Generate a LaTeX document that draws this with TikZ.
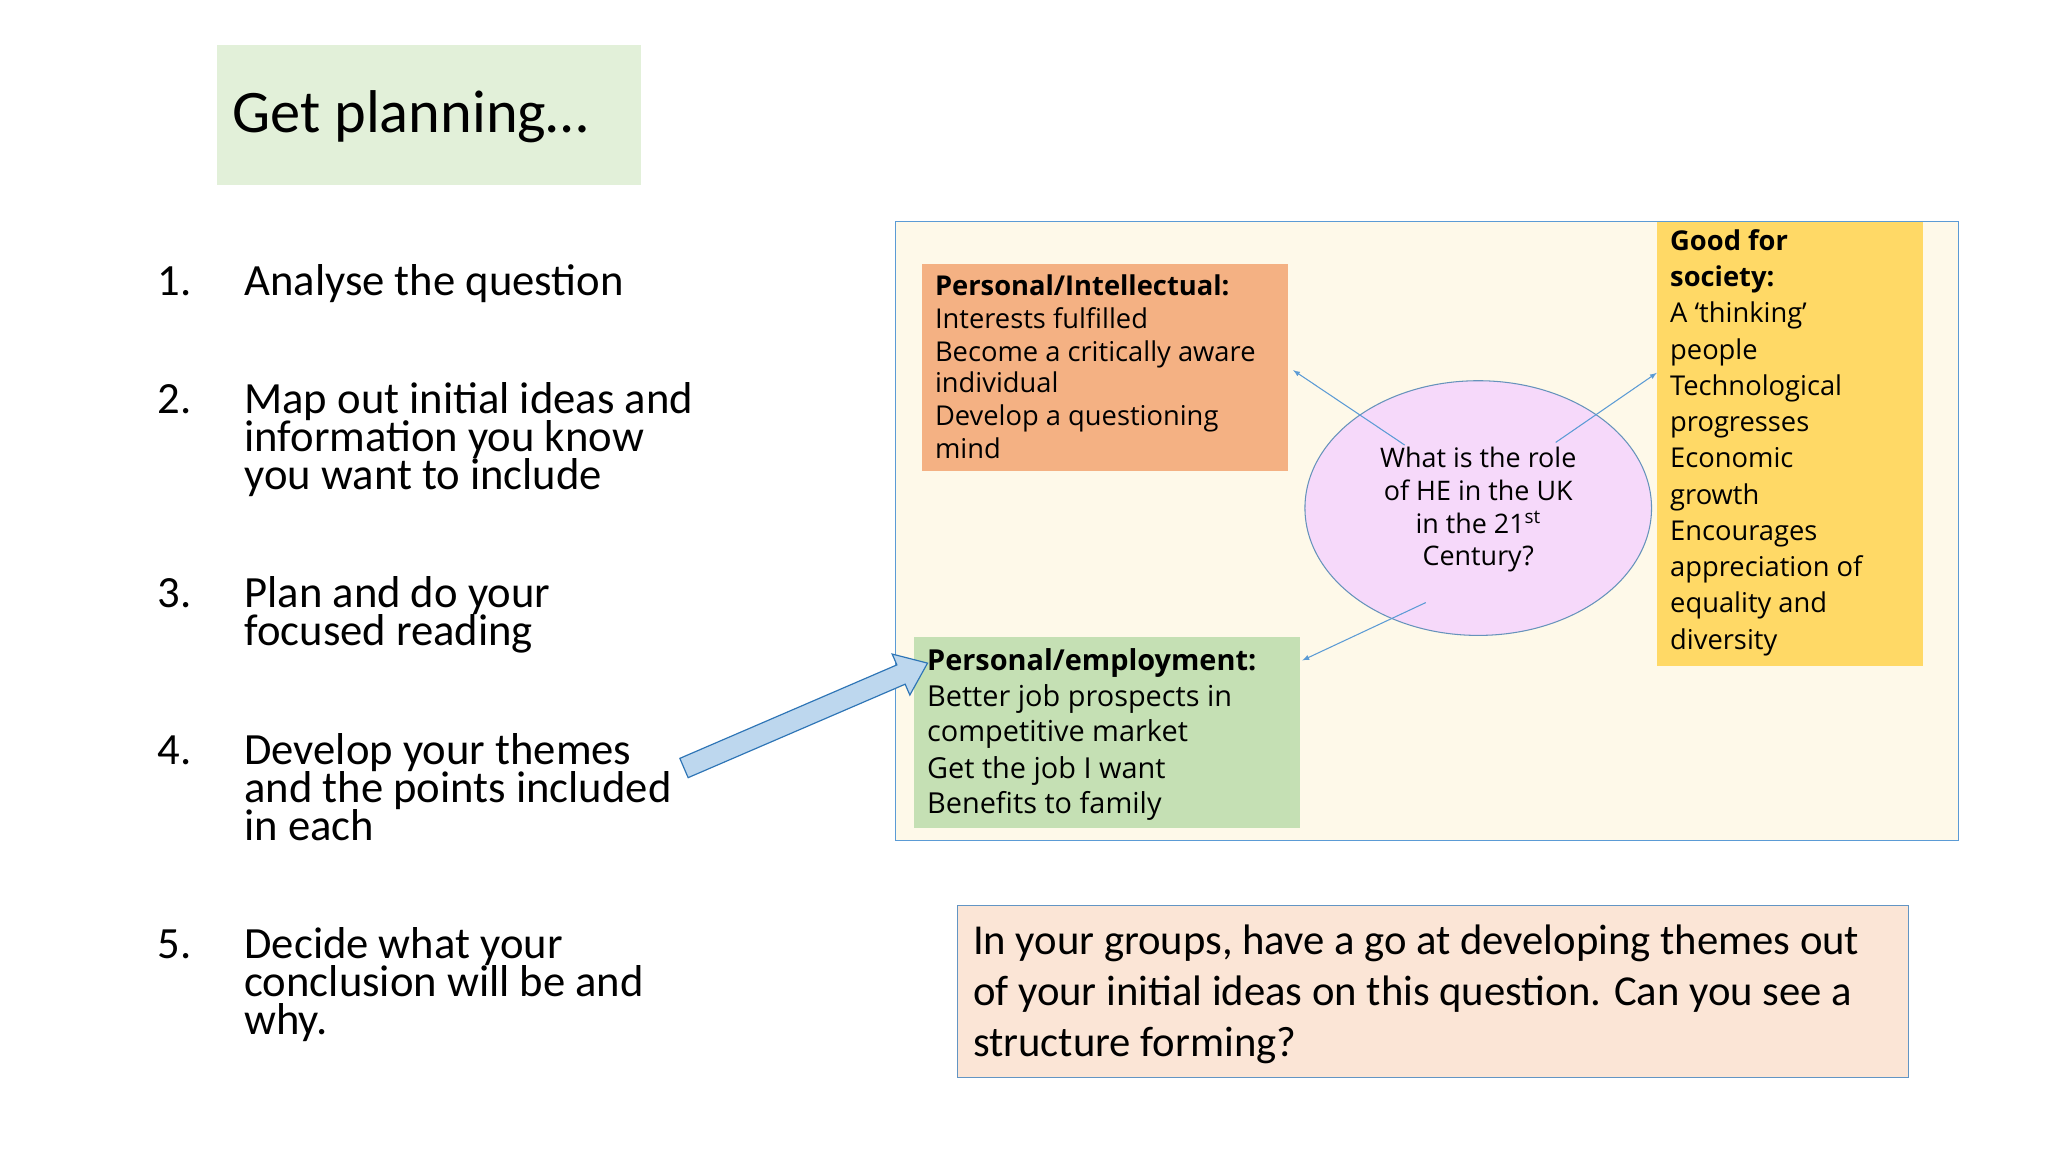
\documentclass[tikz,border=0pt]{standalone}
\usepackage{fontspec}
\usetikzlibrary{shapes.geometric}
\setmainfont{Carlito}
\newfontfamily\boxfont{Open Sans}
\definecolor{titleg}{HTML}{E2F0D9}
\definecolor{cream}{HTML}{FEF9E9}
\definecolor{bluel}{HTML}{5B9BD5}
\definecolor{orng}{HTML}{F4B183}
\definecolor{yell}{HTML}{FFD966}
\definecolor{grn}{HTML}{C5E0B4}
\definecolor{pinkv}{HTML}{F6D9FA}
\definecolor{peach}{HTML}{FBE5D6}
\definecolor{arrf}{HTML}{BDD7EE}
\definecolor{arro}{HTML}{2E75B6}
\tikzset{
 li/.style={anchor=base west,inner sep=0,font=\fontsize{34}{34}\selectfont},
 bt/.style={anchor=base west,inner sep=0,font=\boxfont\fontsize{20.8}{21}\selectfont},
 bb/.style={bt,font=\boxfont\bfseries\fontsize{20.8}{21}\selectfont},
 gt/.style={bt,font=\boxfont\fontsize{22}{22}\selectfont},
 el/.style={anchor=base,inner sep=0,font=\boxfont\fontsize{20.5}{21}\selectfont},
 qt/.style={anchor=base west,inner sep=0,font=\fontsize{32.5}{32}\selectfont},
 conn/.style={draw=bluel,line width=0.8pt,-latex}
}
\begin{document}
\begin{tikzpicture}[x=1pt,y=1pt]
\useasboundingbox[fill=white] (0,0) rectangle (1560,-878);
\fill[titleg] (165,-34) rectangle (488,-141);
\node[anchor=base west,inner sep=0,font=\fontsize{46}{46}\selectfont] (title) at (177,-101) {Get planning…};
% list
\foreach \n/\y in {1/214,2/304,3/452,4/571,5/719}{\node[li] (n\n) at (120,-\y-11) {\n.};}
\node[li] (a1) at (186,-225) {Analyse the question};
\node[li] (a2) at (186,-315) {Map out initial ideas and};
\node[li] (a3) at (186,-344) {information you know};
\node[li] (a4) at (186,-373) {you want to include};
\node[li] (a5) at (186,-463) {Plan and do your};
\node[li] (a6) at (186,-492) {focused reading};
\node[li] (a7) at (186,-582) {Develop your themes};
\node[li] (a8) at (186,-611) {and the points included};
\node[li] (a9) at (186,-640) {in each};
\node[li] (a10) at (186,-730) {Decide what your};
\node[li] (a11) at (186,-759) {conclusion will be and};
\node[li] (a12) at (186,-788) {why.};
% big box
\draw[bluel,fill=cream,line width=0.8pt] (682,-169) rectangle (1492,-640);
\fill[orng] (702,-201) rectangle (981,-359);
\fill[yell] (1262,-169) rectangle (1465,-507);
\fill[grn] (696,-485) rectangle (990,-631);
\node[ellipse,draw=bluel!70!gray,fill=pinkv,line width=0.8pt,minimum width=264,minimum height=194,inner sep=0] (q) at (1126,-387) {};
\node[el] (q1) at (1126,-356) {What is the role};
\node[el] (q2) at (1126,-381) {of HE in the UK};
\node[el] (q3) at (1126,-406) {in the 21\textsuperscript{st}};
\node[el] (q4) at (1126,-431) {Century?};
% orange text
\node[bb] (o1) at (712,-225) {Personal/Intellectual:};
\node[bt] (o2) at (712,-250) {Interests fulfilled};
\node[bt] (o3) at (712,-275) {Become a critically aware};
\node[bt] (o4) at (712,-299) {individual};
\node[bt] (o5) at (712,-324) {Develop a questioning};
\node[bt] (o6) at (712,-349) {mind};
% yellow text
\node[bb] (y1) at (1272,-191) {Good for};
\node[bb] (y2) at (1272,-218) {society:};
\foreach \t [count=\i] in {A ‘thinking’,people,Technological,progresses,Economic,growth,Encourages,appreciation of,equality and,diversity}{
 \node[bt] (y\i x) at (1272,-246-27.6*\i+27.6) {\t};}
% green text
\node[bb,font=\boxfont\bfseries\fontsize{22}{22}\selectfont] (g1) at (706,-511) {Personal/employment:};
\node[gt] (g2) at (706,-538) {Better job prospects in};
\node[gt] (g3) at (706,-565) {competitive market};
\node[gt] (g4) at (706,-593) {Get the job I want};
\node[gt] (g5) at (706,-620) {Benefits to family};
% connectors
\coordinate (s1) at (1070,-339); \coordinate (e1) at (985,-282);
\coordinate (s2) at (1185,-337); \coordinate (e2) at (1262,-284);
\coordinate (s3) at (1086,-459); \coordinate (e3) at (992,-503);
\draw[conn] (s1) -- (e1);
\draw[conn] (s2) -- (e2);
\draw[conn] (s3) -- (e3);
% block arrow
\begin{scope}[shift={(521,-585)},rotate=23.3]
\draw[arro,fill=arrf,line width=0.9pt,line join=miter] (0,-8)--(180,-8)--(180,-17)--(202,0)--(180,17)--(180,8)--(0,8)--cycle;
\end{scope}
% bottom box
\draw[bluel!80!gray,fill=peach,line width=0.8pt] (729,-690) rectangle (1454,-821);
\node[qt] (b1) at (741,-727) {In your groups, have a go at developing themes out};
\node[qt] (b2) at (741,-766) {of your initial ideas on this question. Can you see a};
\node[qt] (b3) at (741,-805) {structure forming?};
\end{tikzpicture}
\end{document}
